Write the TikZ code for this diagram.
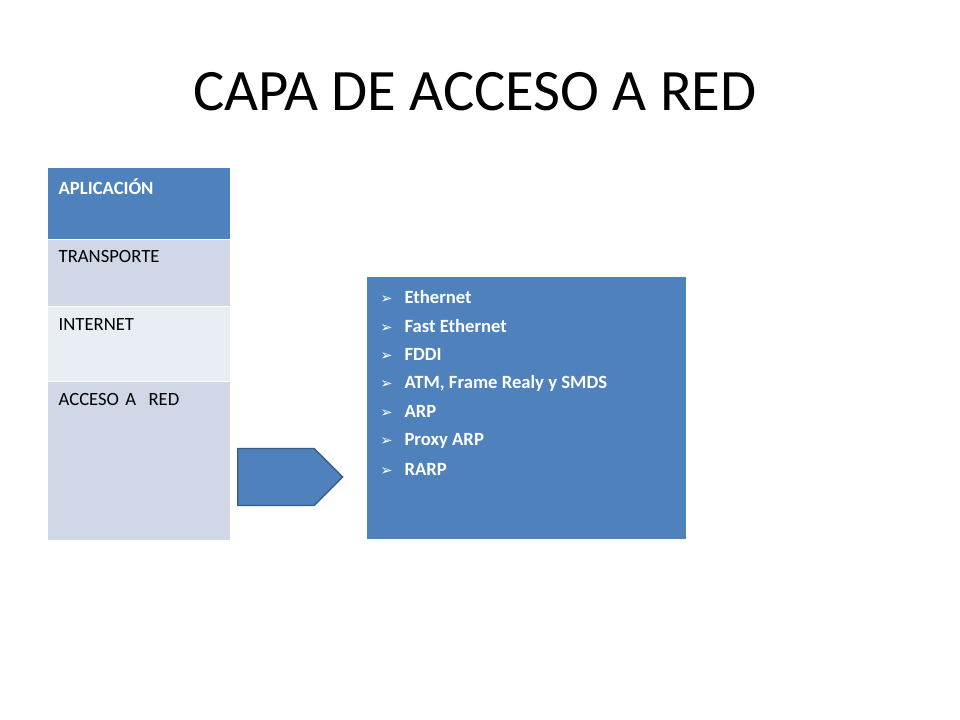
\documentclass[tikz,border=0pt]{standalone}
\usepackage{fontspec}
\setmainfont{Carlito}
\newfontfamily\symfont{DejaVu Sans}
\usetikzlibrary{positioning,shapes.arrows}
\definecolor{capablue}{RGB}{79,129,189}
\definecolor{capaedge}{RGB}{56,93,138}
\definecolor{rowdark}{RGB}{208,216,232}
\definecolor{rowlight}{RGB}{233,237,244}
\tikzset{
  layer/.style={anchor=north west, inner sep=0pt, text width=172pt*0.75,
    align=left, font=\fontsize{14}{16}\selectfont, draw=white, line width=1pt},
  itemline/.style={anchor=west, inner sep=0pt, text=white,
    font=\fontsize{14}{16}\selectfont\bfseries}
}
\newcommand{\bulletmark}{{\symfont\fontsize{11}{12}\selectfont\char"27A2}}
\begin{document}
\begin{tikzpicture}[x=0.75pt,y=-0.75pt]
\useasboundingbox (0,0) rectangle (960,720);
% title
\node (title) at (475,92) {\fontsize{44}{50}\selectfont CAPA DE ACCESO A RED};
% layer table
\fill[capablue] (48,168) rectangle (230,239);
\fill[rowdark] (48,240) rectangle (230,306);
\fill[rowlight] (48,307) rectangle (230,381);
\fill[rowdark] (48,382) rectangle (230,540);
\node[layer, draw=none, text=white, font=\fontsize{14}{16}\selectfont\bfseries]
  (app) at (58,178) {APLICACIÓN};
\node[layer, draw=none] (trans) at (58,250) {TRANSPORTE};
\node[layer, draw=none] (inet) at (58,318) {INTERNET};
\node[layer, draw=none] (acc) at (58,393) {ACCESO A\ \ RED};
% arrow
\node[single arrow, fill=capablue, draw=capaedge, line width=1pt,
  minimum width=57*0.75pt, minimum height=105*0.75pt,
  single arrow head extend=0pt, single arrow tip angle=90,
  single arrow head indent=0pt, inner sep=0pt, anchor=tail,
  text width=1pt] (arrow) at (237,477) {};
% protocol box
\fill[capablue] (367,277) rectangle (686,539);
\foreach \t [count=\i from 0] in {Ethernet, Fast Ethernet, FDDI,
    {ATM, Frame Realy y SMDS}, ARP, Proxy ARP, RARP}
  \node[itemline] (item\i) at (380,297+28.7*\i)
    {\textcolor{white}{\bulletmark}\hspace{9pt}\t};
\end{tikzpicture}
\end{document}
